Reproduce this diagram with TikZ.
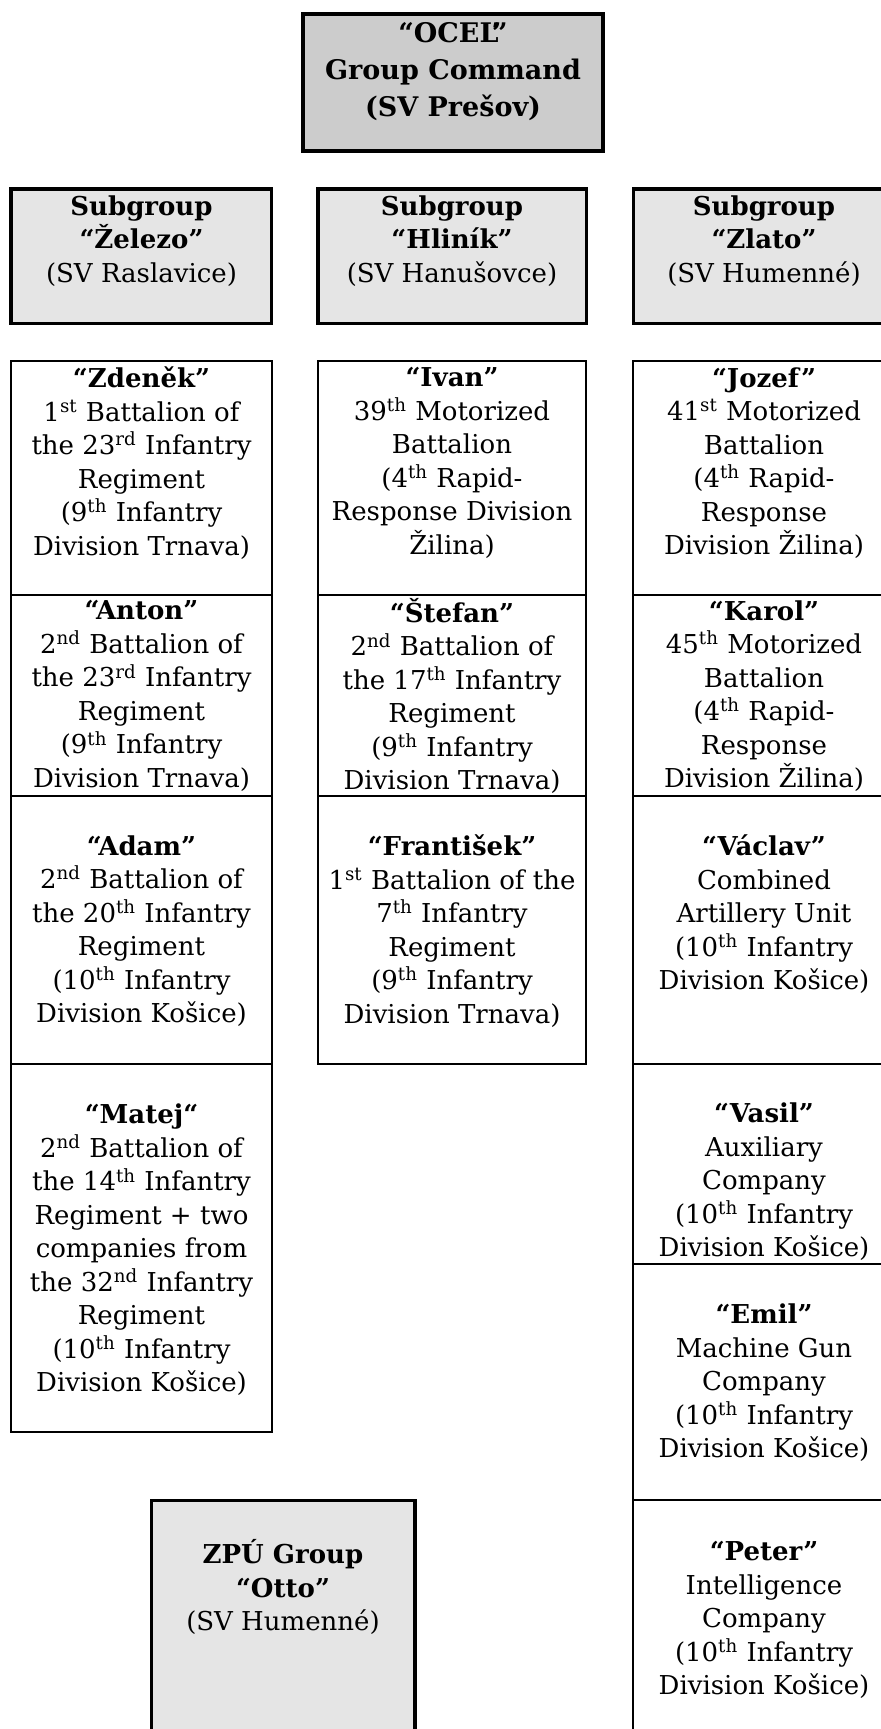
\documentclass[tikz,border=0pt]{standalone}
\usepackage{fontspec}
\setmainfont{DejaVu Serif}
\definecolor{cmdgray}{HTML}{CCCCCC}
\definecolor{subgray}{HTML}{E5E5E5}
\tikzset{
  cmdbox/.style={draw, line width=2pt, fill=cmdgray},
  subbox/.style={draw, line width=1.75pt, fill=subgray},
  unitbox/.style={draw, line width=1pt},
  unittext/.style={align=center, inner sep=0pt, font=\fontsize{13}{16.75}\selectfont},
  cmdtext/.style={align=center, inner sep=0pt, font=\fontsize{13.5}{18.5}\selectfont\bfseries}
}
\newcommand{\sups}[1]{\textsuperscript{#1}}
\begin{document}
\begin{tikzpicture}[x=0.5pt,y=-0.5pt]
    \useasboundingbox (0,0) rectangle (881,1729);
    \clip (0,0) rectangle (881,1729);
    \draw[cmdbox] (303,14) rectangle (603,151);
    \node[cmdtext] (ocel) at (453,72) {“OCEĽ”\\Group Command\\(SV Prešov)};
    \draw[subbox] (11,189) rectangle (271.5,323.5);
    \draw[subbox] (318,189) rectangle (586.5,323.5);
    \draw[subbox] (633.5,189) rectangle (895,323.5);
    \node[unittext] (zelezo) at (141.5,241) {\textbf{Subgroup}\\\textbf{“Železo”}\\(SV Raslavice)};
    \node[unittext] (hlinik) at (452,241) {\textbf{Subgroup}\\\textbf{“Hliník”}\\(SV Hanušovce)};
    \node[unittext] (zlato) at (764,241) {\textbf{Subgroup}\\\textbf{“Zlato”}\\(SV Humenné)};
    \draw[unitbox] (11,360.5) rectangle (272,595);
    \draw[unitbox] (11,595) rectangle (272,796);
    \draw[unitbox] (11,796) rectangle (272,1064);
    \draw[unitbox] (11,1064) rectangle (272,1432);
    \node[unittext] (zdenek) at (141.5,463) {\textbf{“Zdeněk”}\\1\sups{st} Battalion of\\the 23\sups{rd} Infantry\\Regiment\\(9\sups{th} Infantry\\Division Trnava)};
    \node[unittext] (anton) at (141.5,696) {\textbf{“Anton”}\\2\sups{nd} Battalion of\\the 23\sups{rd} Infantry\\Regiment\\(9\sups{th} Infantry\\Division Trnava)};
    \node[unittext] (adam) at (141.5,931) {\textbf{“Adam”}\\2\sups{nd} Battalion of\\the 20\sups{th} Infantry\\Regiment\\(10\sups{th} Infantry\\Division Košice)};
    \node[unittext] (matej) at (141.5,1250) {\textbf{“Matej“}\\2\sups{nd} Battalion of\\the 14\sups{th} Infantry\\Regiment + two\\companies from\\the 32\sups{nd} Infantry\\Regiment\\(10\sups{th} Infantry\\Division Košice)};
    \draw[unitbox] (318,360.5) rectangle (586,595);
    \draw[unitbox] (318,595) rectangle (586,796);
    \draw[unitbox] (318,796) rectangle (586,1064);
    \node[unittext] (ivan) at (452,463) {\textbf{“Ivan”}\\39\sups{th} Motorized\\Battalion\\(4\sups{th} Rapid-\\Response Division\\Žilina)};
    \node[unittext] (stefan) at (452,696) {\textbf{“Štefan”}\\2\sups{nd} Battalion of\\the 17\sups{th} Infantry\\Regiment\\(9\sups{th} Infantry\\Division Trnava)};
    \node[unittext] (frantisek) at (452,931) {\textbf{“František”}\\1\sups{st} Battalion of the\\7\sups{th} Infantry\\Regiment\\(9\sups{th} Infantry\\Division Trnava)};
    \draw[unitbox] (633,360.5) rectangle (895,595);
    \draw[unitbox] (633,595) rectangle (895,796);
    \draw[unitbox] (633,796) rectangle (895,1064);
    \draw[unitbox] (633,1064) rectangle (895,1264);
    \draw[unitbox] (633,1264) rectangle (895,1500);
    \draw[unitbox] (633,1500) rectangle (895,1760);
    \node[unittext] (jozef) at (764,463) {\textbf{“Jozef”}\\41\sups{st} Motorized\\Battalion\\(4\sups{th} Rapid-\\Response\\Division Žilina)};
    \node[unittext] (karol) at (764,696) {\textbf{“Karol”}\\45\sups{th} Motorized\\Battalion\\(4\sups{th} Rapid-\\Response\\Division Žilina)};
    \node[unittext] (vaclav) at (764,914.5) {\textbf{“Václav”}\\Combined\\Artillery Unit\\(10\sups{th} Infantry\\Division Košice)};
    \node[unittext] (vasil) at (764,1182) {\textbf{“Vasil”}\\Auxiliary\\Company\\(10\sups{th} Infantry\\Division Košice)};
    \node[unittext] (emil) at (764,1383) {\textbf{“Emil”}\\Machine Gun\\Company\\(10\sups{th} Infantry\\Division Košice)};
    \node[unittext] (peter) at (764,1620) {\textbf{“Peter”}\\Intelligence\\Company\\(10\sups{th} Infantry\\Division Košice)};
    \draw[subbox] (151.5,1500.5) rectangle (415,1760);
    \node[unittext] (otto) at (283,1587) {\textbf{ZPÚ Group}\\\textbf{“Otto”}\\(SV Humenné)};
\end{tikzpicture}
\end{document}
